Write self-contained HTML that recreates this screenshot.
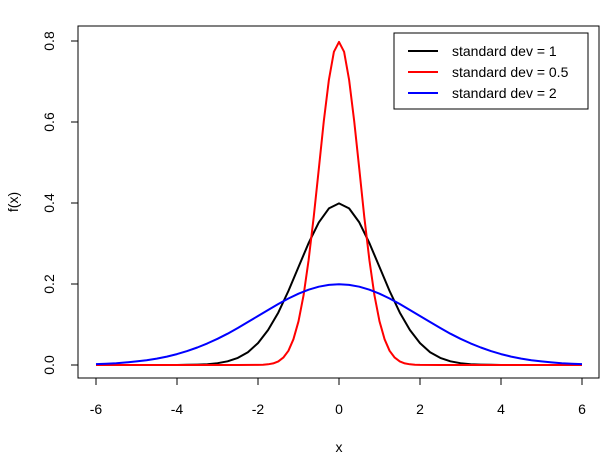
<!DOCTYPE html>
<html><head><meta charset="utf-8"><style>
body{margin:0;background:#fff}
svg text{font-family:"Liberation Sans",Arial,sans-serif;fill:#000}
</style></head><body>
<svg id="chart" width="613" height="460" xmlns="http://www.w3.org/2000/svg"></svg>
<script>
const xValues = [-6,-5.75,-5.5,-5.25,-5,-4.75,-4.5,-4.25,-4,-3.75,-3.5,-3.25,-3,-2.75,-2.5,-2.25,-2,-1.75,-1.5,-1.25,-1,-0.75,-0.5,-0.25,0,0.25,0.5,0.75,1,1.25,1.5,1.75,2,2.25,2.5,2.75,3,3.25,3.5,3.75,4,4.25,4.5,4.75,5,5.25,5.5,5.75,6];
const sd1Values = [0,0,0,0,0,0,0,0,0.0001,0.0004,0.0009,0.0020,0.0044,0.0091,0.0175,0.0317,0.0540,0.0863,0.1295,0.1826,0.2420,0.3011,0.3521,0.3867,0.3989,0.3867,0.3521,0.3011,0.2420,0.1826,0.1295,0.0863,0.0540,0.0317,0.0175,0.0091,0.0044,0.0020,0.0009,0.0004,0.0001,0,0,0,0,0,0,0,0];
const sd05X = [-6,-2.5,-2,-1.875,-1.75,-1.625,-1.5,-1.375,-1.25,-1.125,-1,-0.875,-0.75,-0.625,-0.5,-0.375,-0.25,-0.125,0,0.125,0.25,0.375,0.5,0.625,0.75,0.875,1,1.125,1.25,1.375,1.5,1.625,1.75,1.875,2,2.5,6];
const sd05Values = [0,0,0.0003,0.0007,0.0017,0.0040,0.0089,0.0182,0.0350,0.0634,0.1080,0.1726,0.2591,0.3652,0.4839,0.6022,0.7041,0.7734,0.7979,0.7734,0.7041,0.6022,0.4839,0.3652,0.2591,0.1726,0.1080,0.0634,0.0350,0.0182,0.0089,0.0040,0.0017,0.0007,0.0003,0,0];
const sd2Values = [0.0022,0.0032,0.0045,0.0064,0.0088,0.0119,0.0159,0.0208,0.0270,0.0344,0.0431,0.0533,0.0648,0.0774,0.0913,0.1061,0.1210,0.1359,0.1506,0.1641,0.1760,0.1859,0.1933,0.1979,0.1995,0.1979,0.1933,0.1859,0.1760,0.1641,0.1506,0.1359,0.1210,0.1061,0.0913,0.0774,0.0648,0.0533,0.0431,0.0344,0.0270,0.0208,0.0159,0.0119,0.0088,0.0064,0.0045,0.0032,0.0022];
const xTicks = [-6,-4,-2,0,2,4,6];
const yTicks = [0,0.2,0.4,0.6,0.8];
const yTickLabels = ["0.0","0.2","0.4","0.6","0.8"];
const legendLabels = ["standard dev = 1","standard dev = 0.5","standard dev = 2"];
const seriesColors = ["#000","#f00","#00f"];

const svg = document.getElementById('chart');
const NS = 'http://www.w3.org/2000/svg';
function sx(v){return 339 + v*40.5;}
function sy(v){return 365 - v*405;}
function mk(tag, attrs){const e=document.createElementNS(NS,tag);for(const k in attrs)e.setAttribute(k,attrs[k]);svg.appendChild(e);return e;}

const box = mk('rect',{x:78,y:26,width:521,height:352,fill:'none',stroke:'#000','stroke-width':1});



const seriesList=[[xValues,sd1Values],[sd05X,sd05Values],[xValues,sd2Values]];
const seriesNames=['series-sd-1','series-sd-0-5','series-sd-2'];
seriesList.forEach((s,i)=>{
  const xs=s[0], vals=s[1];
  const pts=xs.map((x,j)=>sx(x).toFixed(1)+','+sy(vals[j]).toFixed(1)).join(' ');
  const pl=mk('polyline',{points:pts,fill:'none',stroke:seriesColors[i],'stroke-width':2,'stroke-linejoin':'round'});
  
  
});

const xAxis=mk('line',{x1:sx(xTicks[0]),x2:sx(xTicks[xTicks.length-1]),y1:378,y2:378,stroke:'#000'});


xTicks.forEach(t=>{
  const tk=mk('line',{x1:sx(t),x2:sx(t),y1:378,y2:385,stroke:'#000'});
  
  
  const tl=mk('text',{x:sx(t),y:414,'text-anchor':'middle','font-size':14});
  tl.textContent=String(t);
  
  
});
yTicks.forEach((t,i)=>{
  const tk=mk('line',{x1:71,x2:78,y1:sy(t),y2:sy(t),stroke:'#000'});
  
  
  const tl=mk('text',{x:0,y:0,'text-anchor':'middle','font-size':14,transform:'translate(54,'+sy(t)+') rotate(-90)'});
  tl.textContent=yTickLabels[i];
  
  
});
const xt=mk('text',{x:339,y:452,'text-anchor':'middle','font-size':14});
xt.textContent='x';


const yt=mk('text',{x:0,y:0,'text-anchor':'middle','font-size':14,transform:'translate(18,202) rotate(-90)'});
yt.textContent='f(x)';



const lg=mk('rect',{x:394,y:33,width:194,height:76,fill:'#fff',stroke:'#000'});


legendLabels.forEach((lab,i)=>{
  const y=51+i*21;
  const ln=mk('line',{x1:408,x2:438,y1:y,y2:y,stroke:seriesColors[i],'stroke-width':2});
  
  
  const tx=mk('text',{x:452,y:y+5,'font-size':14});
  tx.textContent=lab;
  
  
});
</script>
</body></html>
